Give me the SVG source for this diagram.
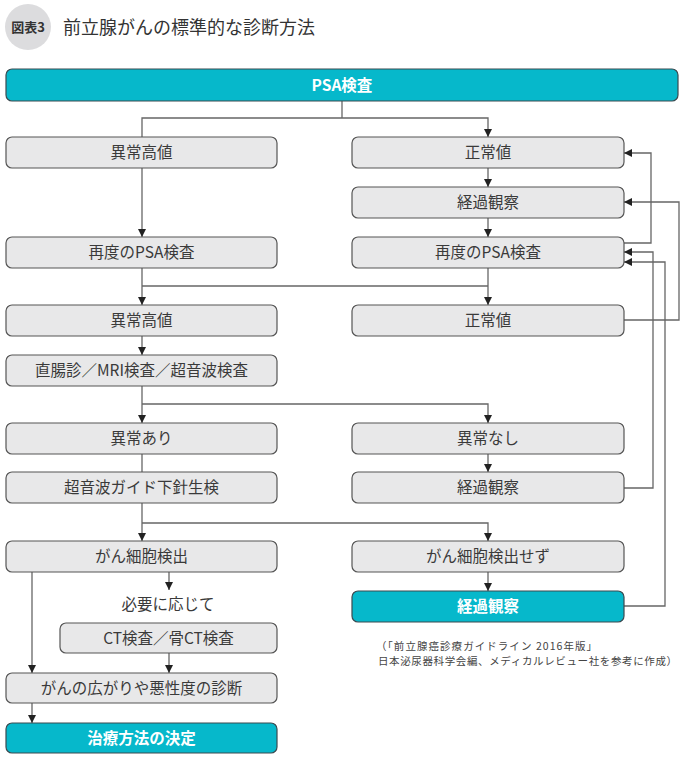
<svg xmlns="http://www.w3.org/2000/svg" width="684" height="758" viewBox="0 0 684 758">
<style>
text{font-family:"Noto Sans CJK JP","Noto Sans",sans-serif;}
.box{fill:#e8e8e9;stroke:#555;stroke-width:1.2;}
.teal{fill:#06b8cb;stroke:#3a4a50;stroke-width:1.2;}
.t{font-size:15.5px;fill:#3a3a3a;text-anchor:middle;}
.tw{font-size:15.5px;fill:#fff;font-weight:bold;text-anchor:middle;}
.c{fill:none;stroke:#666;stroke-width:1.3;}
.note{font-size:10.5px;fill:#444;}
</style>
<defs>
<marker id="ah" markerUnits="userSpaceOnUse" markerWidth="9" markerHeight="9" refX="8" refY="4.5" orient="auto">
<path d="M0,0.5 L8,4.5 L0,8.5 z" fill="#222"/>
</marker>
</defs>
<rect width="684" height="758" fill="#fff"/>
<g id="title">
<circle cx="28" cy="27" r="23" fill="#dcdcde"/>
<text x="28" y="32" font-size="13" font-weight="bold" fill="#333" text-anchor="middle">図表3</text>
<text x="63" y="33.5" font-size="18" fill="#333">前立腺がんの標準的な診断方法</text>
</g>
<g id="connectors">
<path class="c" d="M342,101 V118"/>
<path class="c" d="M142,137 V118 H488 V137" marker-end="url(#ah)"/>
<path class="c" d="M142,168 V237" marker-end="url(#ah)"/>
<path class="c" d="M488,168 V187" marker-end="url(#ah)"/>
<path class="c" d="M488,218 V237" marker-end="url(#ah)"/>
<path class="c" d="M142,268 V305" marker-end="url(#ah)"/>
<path class="c" d="M488,268 V305" marker-end="url(#ah)"/>
<path class="c" d="M142,286 H488"/>
<path class="c" d="M142,336 V355" marker-end="url(#ah)"/>
<path class="c" d="M142,386 V423" marker-end="url(#ah)"/>
<path class="c" d="M142,404 H488 V423" marker-end="url(#ah)"/>
<path class="c" d="M142,454 V472"/>
<path class="c" d="M488,454 V472" marker-end="url(#ah)"/>
<path class="c" d="M142,503 V541" marker-end="url(#ah)"/>
<path class="c" d="M142,523 H488 V541" marker-end="url(#ah)"/>
<path class="c" d="M488,572 V591" marker-end="url(#ah)"/>
<path class="c" d="M32,572 V673" marker-end="url(#ah)"/>
<path class="c" d="M169,572 V590" marker-end="url(#ah)"/>
<path class="c" d="M169,653 V673" marker-end="url(#ah)"/>
<path class="c" d="M32,703 V723" marker-end="url(#ah)"/>
<path class="c" d="M624,243 H651 V153 H624" marker-end="url(#ah)"/>
<path class="c" d="M624,320 H679 V202 H624" marker-end="url(#ah)"/>
<path class="c" d="M624,488 H653 V252 H624" marker-end="url(#ah)"/>
<path class="c" d="M624,606 H665 V262 H624" marker-end="url(#ah)"/>
</g>
<g id="n-psa"><rect class="teal" x="6" y="69" width="672" height="32" rx="6"/><text class="tw" x="342" y="90.5">PSA検査</text></g>
<g id="n-high1"><rect class="box" x="6" y="137" width="271" height="31" rx="6"/><text class="t" x="141.5" y="158">異常高値</text></g>
<g id="n-normal1"><rect class="box" x="352" y="137" width="272" height="31" rx="6"/><text class="t" x="488" y="158">正常値</text></g>
<g id="n-obs1"><rect class="box" x="352" y="187" width="272" height="31" rx="6"/><text class="t" x="488" y="208">経過観察</text></g>
<g id="n-repsa-l"><rect class="box" x="6" y="237" width="271" height="31" rx="6"/><text class="t" x="141.5" y="258">再度のPSA検査</text></g>
<g id="n-repsa-r"><rect class="box" x="352" y="237" width="272" height="31" rx="6"/><text class="t" x="488" y="258">再度のPSA検査</text></g>
<g id="n-high2"><rect class="box" x="6" y="305" width="271" height="31" rx="6"/><text class="t" x="141.5" y="326">異常高値</text></g>
<g id="n-normal2"><rect class="box" x="352" y="305" width="272" height="31" rx="6"/><text class="t" x="488" y="326">正常値</text></g>
<g id="n-exam"><rect class="box" x="6" y="355" width="271" height="31" rx="6"/><text class="t" x="141.5" y="376">直腸診／MRI検査／超音波検査</text></g>
<g id="n-abn"><rect class="box" x="6" y="423" width="271" height="31" rx="6"/><text class="t" x="141.5" y="444">異常あり</text></g>
<g id="n-noabn"><rect class="box" x="352" y="423" width="272" height="31" rx="6"/><text class="t" x="488" y="444">異常なし</text></g>
<g id="n-biopsy"><rect class="box" x="6" y="472" width="271" height="31" rx="6"/><text class="t" x="141.5" y="493">超音波ガイド下針生検</text></g>
<g id="n-obs2"><rect class="box" x="352" y="472" width="272" height="31" rx="6"/><text class="t" x="488" y="493">経過観察</text></g>
<g id="n-detect"><rect class="box" x="6" y="541" width="271" height="31" rx="6"/><text class="t" x="141.5" y="562">がん細胞検出</text></g>
<g id="n-nodetect"><rect class="box" x="352" y="541" width="272" height="31" rx="6"/><text class="t" x="488" y="562">がん細胞検出せず</text></g>
<g id="n-obs3"><rect class="teal" x="352" y="591" width="272" height="31" rx="6"/><text class="tw" x="488" y="612">経過観察</text></g>
<g id="n-asneeded"><text class="t" x="168" y="610">必要に応じて</text></g>
<g id="n-ct"><rect class="box" x="60" y="623" width="217" height="30" rx="6"/><text class="t" x="168.5" y="643.5">CT検査／骨CT検査</text></g>
<g id="n-stage"><rect class="box" x="6" y="673" width="271" height="30" rx="6"/><text class="t" x="141.5" y="693.5">がんの広がりや悪性度の診断</text></g>
<g id="n-treat"><rect class="teal" x="6" y="723" width="271" height="30" rx="6"/><text class="tw" x="141.5" y="743.5">治療方法の決定</text></g>
<g id="note">
<text class="note" x="376" y="649.5" textLength="221" lengthAdjust="spacing">（「前立腺癌診療ガイドライン 2016年版」</text>
<text class="note" x="378" y="665" textLength="299" lengthAdjust="spacing">日本泌尿器科学会編、メディカルレビュー社を参考に作成）</text>
</g>
</svg>
